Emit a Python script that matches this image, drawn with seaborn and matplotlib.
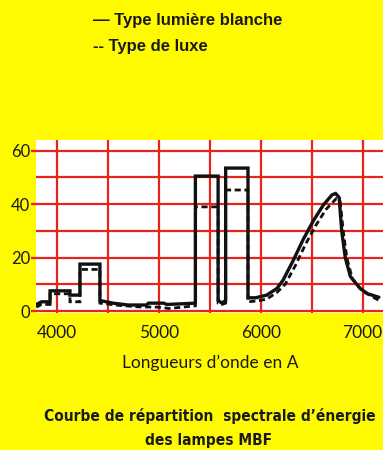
import matplotlib
matplotlib.use("Agg")
import matplotlib.pyplot as plt
import seaborn as sns
import pandas as pd
from matplotlib.ticker import MultipleLocator

# ---- data ----
lam_blanche = [3800, 3850, 3935, 3935, 4130, 4130, 4228, 4228, 4424, 4424, 4550, 4700,
               4880, 4900, 5050, 5080, 5360, 5360, 5583, 5583, 5620, 5657, 5657, 5876,
               5876, 5950, 6060, 6160, 6220, 6320, 6420, 6520, 6615, 6700, 6735, 6770,
               6795, 6830, 6880, 6975, 7050, 7160]
e_blanche = [2.5, 3.5, 3.5, 7.6, 7.6, 6.0, 6.0, 17.6, 17.6, 4.0, 3.0, 2.3,
             2.3, 3.0, 3.0, 2.5, 3.0, 50.5, 50.5, 4.0, 3.0, 4.0, 53.5, 53.5,
             5.0, 5.0, 6.0, 8.5, 11.6, 19.0, 27.0, 34.0, 39.7, 43.5, 44.0, 42.5,
             30.0, 20.0, 13.0, 8.5, 6.5, 5.2]

lam_luxe = [3800, 3850, 3935, 3935, 4130, 4130, 4228, 4228, 4424, 4424, 4600, 4800,
            5000, 5100, 5360, 5360, 5583, 5583, 5620, 5657, 5657, 5876, 5876, 5960,
            6060, 6160, 6240, 6340, 6440, 6540, 6640, 6740, 6780, 6810, 6845, 6900,
            7000, 7160]
e_luxe = [1.5, 2.5, 2.5, 6.5, 6.5, 3.5, 3.5, 15.6, 15.6, 3.0, 2.2, 1.6,
          1.5, 1.0, 2.0, 39.0, 39.0, 3.0, 2.5, 3.0, 45.3, 45.3, 3.5, 3.8,
          4.5, 7.0, 10.0, 17.0, 25.0, 32.0, 38.0, 42.0, 41.0, 30.0, 20.0, 12.0,
          7.5, 4.0]

x_ticks = [4000, 5000, 6000, 7000]
y_ticks = [0, 20, 40, 60]

legend_lines = ["\u2014 Type lumi\u00e8re blanche", "-- Type de luxe"]
x_label = "Longueurs d\u2019onde en A"
title_lines = ["Courbe de r\u00e9partition  spectrale d\u2019\u00e9nergie", "des lampes MBF"]

YELLOW = "#FFFA00"
RED = "#E8231C"

sns.set_theme(style="white")
plt.rcParams["font.family"] = ["Lato", "DejaVu Sans"]

fig = plt.figure(figsize=(3.83, 4.5), dpi=100)
fig.patch.set_facecolor(YELLOW)
W, H = 383, 450
ax = fig.add_axes([36.3 / W, (H - 312.5) / H, (383 - 36.3) / W, 172.5 / H])
ax.set_facecolor("white")

df_b = pd.DataFrame({"lam": lam_blanche, "e": e_blanche})
df_l = pd.DataFrame({"lam": lam_luxe, "e": e_luxe})

sns.lineplot(data=df_l, x="lam", y="e", sort=False, estimator=None, ax=ax,
             color="#111111", lw=2.0, linestyle=(0, (2.2, 1.3)), zorder=3)
sns.lineplot(data=df_b, x="lam", y="e", sort=False, estimator=None, ax=ax,
             color="#111111", lw=2.4, zorder=4)
for ln in ax.lines:
    ln.set_solid_joinstyle("miter")
    ln.set_dash_joinstyle("miter")

ax.set_xlim(3800, 7200)
ax.set_ylim(-0.5, 64)
ax.set_xticks(x_ticks)
ax.xaxis.set_minor_locator(MultipleLocator(500))
ax.set_yticks(y_ticks)
ax.yaxis.set_minor_locator(MultipleLocator(10))
ax.grid(True, which="both", color=RED, lw=1.6, zorder=1)
ax.set_axisbelow(True)
for s in ax.spines.values():
    s.set_visible(False)

ax.tick_params(axis="x", which="both", length=0, pad=9, labelsize=12.5, labelcolor="#1a1a1a")
ax.tick_params(axis="y", which="major", length=3.5, width=1.6, color=RED, pad=1,
               labelsize=12, labelcolor="#1a1a1a", left=True)
ax.tick_params(axis="y", which="minor", length=0)
ax.set_xlabel("")
ax.set_ylabel("")

fig.text(210 / W, 1 - 363 / H, x_label, ha="center", va="center", fontsize=12.5,
         color="#1a1a1a")

fig.text(93 / W, 1 - 20 / H, legend_lines[0], ha="left", va="center", fontsize=12,
         fontweight="bold", family=["Liberation Sans", "DejaVu Sans"], color="#1a1a1a")
fig.text(93 / W, 1 - 47 / H, legend_lines[1], ha="left", va="center", fontsize=12,
         fontweight="bold", family=["Liberation Sans", "DejaVu Sans"], color="#1a1a1a")

for txt, yy, xx in zip(title_lines, [415.5, 440.5], [210, 208]):
    fig.text(xx / W, 1 - yy / H, txt, ha="center", va="center", fontsize=11.1,
             fontweight="bold", fontstretch="condensed",
             family=["DejaVu Sans"], color="#1a1a1a")

fig.savefig("out.png", dpi=100, facecolor=YELLOW)
